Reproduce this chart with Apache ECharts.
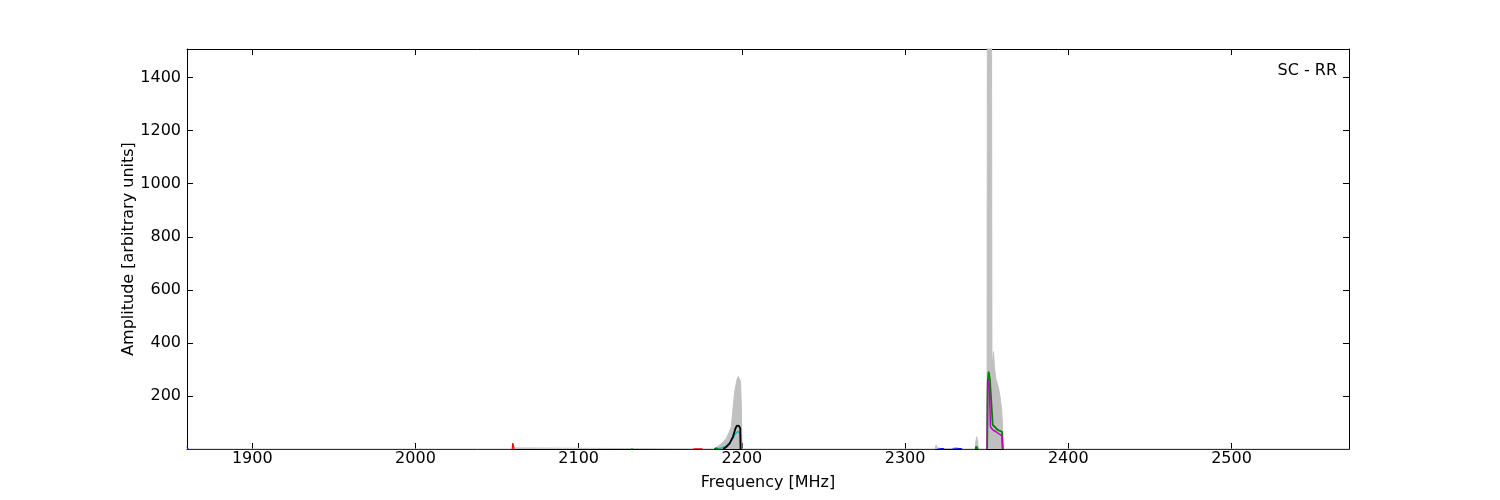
<!DOCTYPE html>
<html><head><meta charset="utf-8">
<script src="https://cdn.jsdelivr.net/npm/echarts@6/dist/echarts.min.js"></script>
<style>html,body{margin:0;padding:0;background:#fff}#c{width:1500px;height:500px}</style>
</head><body><div id="c"></div>
<script>
// Frequency ticks and amplitude ticks
const xTicks = [1900, 2000, 2100, 2200, 2300, 2400, 2500];
const yTicks = [200, 400, 600, 800, 1000, 1200, 1400];
const xMin = 1860, xMax = 2572, yMin = 0, yMax = 1508;

// Envelope (gray filled) [MHz, amplitude]
const grayEnvelope = [
  [1860,0],[2058.8,0],[2059.2,4],[2060.6,4],[2061,0],
  [2183,0],[2184.5,6],[2186.3,15],[2188.5,26],[2190.4,40],[2192,60],[2193.5,84],[2194.5,147],
  [2195.5,211],[2196.9,260],[2197.8,273],[2198.6,268],[2199.2,254],[2199.6,173],[2200.1,0],
  [2229.5,0],[2230,3],[2230.5,0],
  [2318.5,0],[2319,15],[2319.6,4],[2323,2],[2329,2],[2331,6],[2333,3],[2335,0],
  [2343,0],[2343.4,30],[2343.9,46],[2344.4,30],[2344.8,0],
  [2349.8,0],[2350.2,40],[2350.4,1600],[2353.0,1600],[2353.2,330],[2353.7,340],[2354.2,367],
  [2354.7,310],[2355.7,262],[2357.3,229],[2358.2,197],[2359.2,147],[2359.8,72],[2360.2,0],
  [2572,0]
];

// Colored traces, each as separate segments [MHz, amplitude]
const blackSegments = [[
  [2188.5,0],[2189.4,3],[2190.5,8],[2192.5,21],[2194.5,46],[2196.1,78],[2196.9,88],
  [2198.2,87],[2199,78],[2199.2,0]
]];
const cyanSegments = [[
  [2184.5,0],[2187,3],[2190,10],[2192.5,22],[2194.5,40],[2196,58],[2197.5,66],
  [2198.6,64],[2199.1,58],[2199.3,0]
]];
const greenSegments = [
  [[2132.3,0],[2132.6,3],[2133,0]],
  [[2183,0],[2184.5,3],[2185.5,0]],
  [[2343.2,0],[2343.6,10],[2344.3,10],[2344.6,0]],
  [[2350.3,0],[2350.6,250],[2351.2,292],[2352.0,260],[2353.7,91],[2354.7,84],
   [2356.7,72],[2359.4,65],[2359.8,0]]
];
const magentaSegments = [[
  [2350.3,0],[2350.6,230],[2351.2,260],[2351.6,250],[2352.3,84],[2353.7,72],
  [2355.7,65],[2359.4,49],[2359.8,0]
]];
const redSegments = [
  [[2059.3,0],[2059.6,22],[2060.2,22],[2060.5,0]],
  [[2170,0],[2172,1],[2175,1],[2176,0]]
];
const blueSegments = [
  [[1860,10],[1860.6,0]],
  [[2320,0],[2321,1.5],[2323,1.5],[2324,0]],
  [[2329,0],[2330,1.5],[2334,1.5],[2335,0]]
];

function joinSegments(segs) {
  const out = [];
  segs.forEach((s, i) => { if (i) out.push('-'); s.forEach(p => out.push(p)); });
  return out;
}

const font = 'DejaVu Sans';
const txt = {fontFamily: font, fontSize: 16, color: '#000'};
function lineSeries(segs, color, w) {
  return {type: 'line', data: joinSegments(segs), showSymbol: false, symbol: 'none', animation: false,
    connectNulls: false,
    lineStyle: {color: color, width: w}, itemStyle: {color: color}, z: 3};
}
const plain = v => String(v);
const chart = echarts.init(document.getElementById('c'), null, {renderer: 'canvas'});
chart.setOption({
  animation: false,
  backgroundColor: '#fff',
  grid: {left: 187, right: 151, top: 49, bottom: 51, containLabel: false},
  xAxis: [{
    type: 'value', min: xMin, max: xMax, position: 'bottom',
    name: 'Frequency [MHz]', nameLocation: 'middle', nameGap: 26, nameTextStyle: txt,
    nameMoveOverlap: false,
    axisLine: {show: true, onZero: false, lineStyle: {color: '#000', width: 1}},
    axisTick: {show: true, inside: true, length: 6, customValues: xTicks, lineStyle: {color: '#000'}},
    axisLabel: Object.assign({customValues: xTicks, margin: 2, formatter: plain}, txt),
    splitLine: {show: false}
  }, {
    type: 'value', min: xMin, max: xMax, position: 'top',
    axisLine: {show: true, onZero: false, lineStyle: {color: '#000', width: 1}},
    axisTick: {show: true, inside: true, length: 6, customValues: xTicks, lineStyle: {color: '#000'}},
    axisLabel: {show: false}, splitLine: {show: false}
  }],
  yAxis: [{
    type: 'value', min: yMin, max: yMax, position: 'left',
    name: 'Amplitude [arbitrary units]', nameLocation: 'middle', nameGap: 50, nameTextStyle: txt,
    nameMoveOverlap: false,
    axisLine: {show: true, onZero: false, lineStyle: {color: '#000', width: 1}},
    axisTick: {show: true, inside: true, length: 6, customValues: yTicks, lineStyle: {color: '#000'}},
    axisLabel: Object.assign({customValues: yTicks, margin: 6, formatter: plain}, txt),
    splitLine: {show: false}
  }, {
    type: 'value', min: yMin, max: yMax, position: 'right',
    axisLine: {show: true, onZero: false, lineStyle: {color: '#000', width: 1}},
    axisTick: {show: true, inside: true, length: 6, customValues: yTicks, lineStyle: {color: '#000'}},
    axisLabel: {show: false}, splitLine: {show: false}
  }],
  graphic: [{
    type: 'text', right: 163, top: 63,
    style: {text: 'SC - RR', font: '16px "DejaVu Sans"', fill: '#000'}
  }],
  series: [
    {type: 'line', data: grayEnvelope, showSymbol: false, symbol: 'none', animation: false,
     lineStyle: {color: '#c0c0c0', width: 1}, itemStyle: {color: '#c0c0c0'},
     areaStyle: {color: '#c0c0c0', opacity: 1}, z: 2},
    lineSeries(redSegments, '#ff0000', 1.2),
    lineSeries(blueSegments, '#0000ff', 1.2),
    lineSeries(cyanSegments, '#00bfbf', 1.5),
    lineSeries(blackSegments, '#000000', 1.8),
    lineSeries(greenSegments, '#008000', 1.8),
    lineSeries(magentaSegments, '#bf00bf', 1.5)
  ]
});
</script></body></html>
